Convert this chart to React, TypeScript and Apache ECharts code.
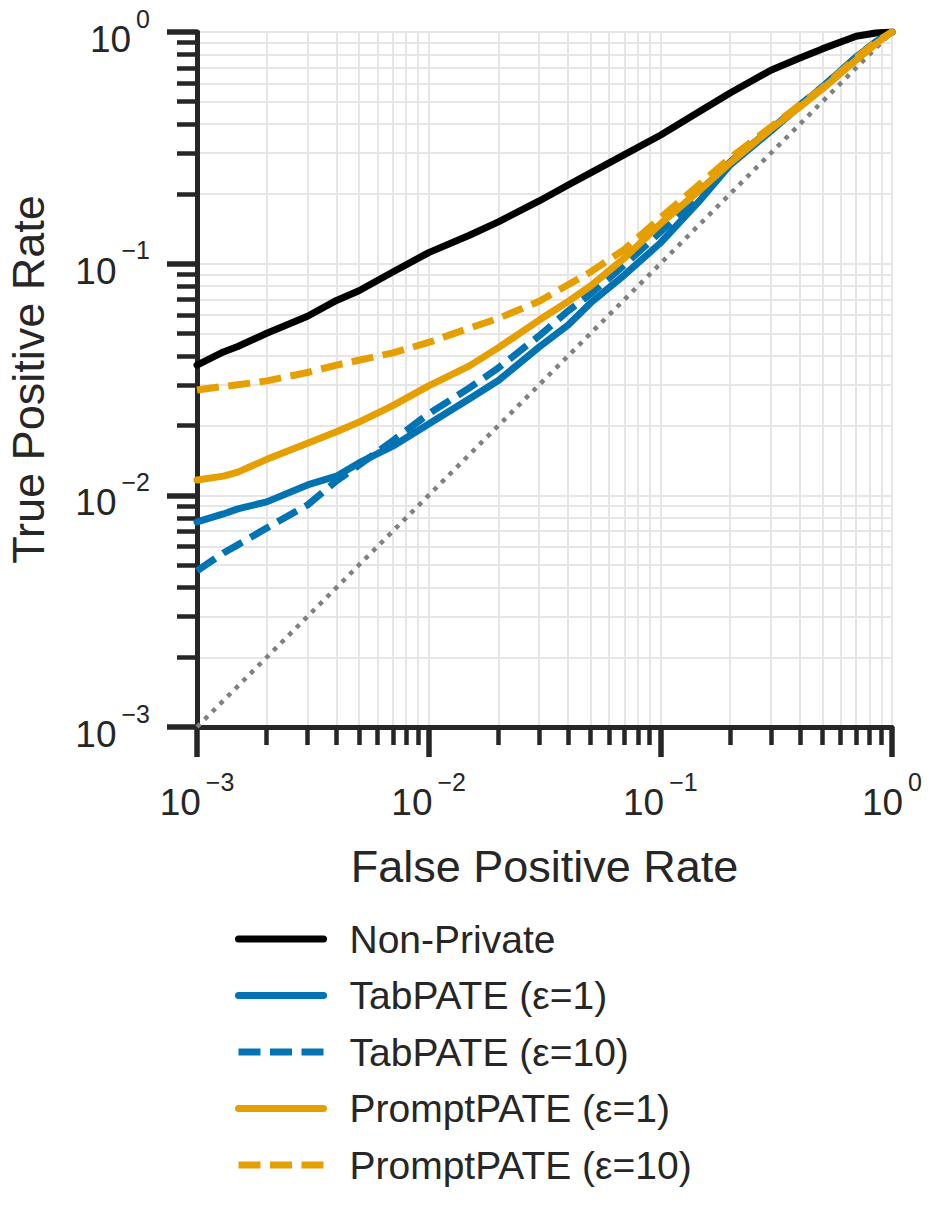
import React, { useEffect, useRef } from "react";
import * as echarts from "echarts";

// ---- data ----
const FPR = [0.001, 0.0013, 0.0015, 0.002, 0.003, 0.004, 0.005, 0.007, 0.01, 0.015, 0.02, 0.03, 0.04, 0.05, 0.07, 0.1, 0.15, 0.2, 0.3, 0.4, 0.5, 0.7, 0.85, 1.0];
const NON_PRIVATE = [0.0365, 0.0416, 0.0439, 0.0501, 0.0593, 0.0694, 0.0764, 0.0921, 0.1116, 0.1327, 0.1516, 0.1865, 0.2186, 0.2464, 0.2954, 0.3585, 0.4584, 0.5453, 0.6841, 0.7723, 0.8455, 0.958, 0.99, 1.0];
const TABPATE_E1 = [0.00768, 0.00831, 0.00874, 0.00937, 0.01109, 0.0121, 0.0138, 0.0163, 0.0203, 0.0261, 0.0313, 0.0437, 0.0544, 0.0677, 0.0894, 0.1228, 0.19, 0.2667, 0.3738, 0.4793, 0.5789, 0.78, 0.9054, 1.0];
const TABPATE_E10 = [0.00472, 0.00564, 0.00611, 0.00723, 0.00909, 0.01154, 0.0135, 0.0172, 0.0225, 0.0291, 0.0355, 0.0488, 0.0625, 0.074, 0.0987, 0.137, 0.2, 0.2747, 0.3814, 0.4841, 0.5789, 0.78, 0.9054, 1.0];
const PROMPTPATE_E1 = [0.01165, 0.0121, 0.0126, 0.0143, 0.0168, 0.0188, 0.0207, 0.0244, 0.0297, 0.0362, 0.0434, 0.0571, 0.0687, 0.0801, 0.1058, 0.1484, 0.2101, 0.272, 0.3814, 0.4746, 0.5675, 0.757, 0.8877, 1.0];
const PROMPTPATE_E10 = [0.0285, 0.0295, 0.03, 0.0312, 0.0339, 0.0365, 0.0383, 0.0412, 0.0457, 0.0527, 0.0581, 0.0688, 0.0811, 0.0921, 0.1152, 0.1575, 0.223, 0.2859, 0.389, 0.4841, 0.5732, 0.7723, 0.9054, 1.0];
const CHANCE = [0.001, 1.0];

const SERIES_NAMES = ["Non-Private", "TabPATE (ε=1)", "TabPATE (ε=10)", "PromptPATE (ε=1)", "PromptPATE (ε=10)"];
const X_TITLE = "False Positive Rate";
const Y_TITLE = "True Positive Rate";
const AXIS_MIN = 0.001;
const AXIS_MAX = 1;

// ---- styles ----
const FONT = "'Liberation Sans', Arial, sans-serif";
const TEXT = "#262626";
const AX = "#262626";
const GRID = "#e6e6e6";
const BLACK = "#000000";
const BLUE = "#0173b2";
const ORANGE = "#e69f00";
const LW = 7;
const DASH = [22, 9.5];

const expLabel = (v: number) => {
  const e = Math.round(Math.log10(v));
  const s = e < 0 ? "\u2212" + -e : String(e);
  return `{b|10}{s|${s}}`;
};

const rich = {
  b: { fontSize: 37, lineHeight: 52, verticalAlign: "bottom", color: TEXT, fontFamily: FONT },
  s: { fontSize: 25, lineHeight: 25, padding: [0, 0, 0, 5], verticalAlign: "top", color: TEXT, fontFamily: FONT },
};

function axisCommon(isX: boolean) {
  return {
    type: "log",
    logBase: 10,
    min: AXIS_MIN,
    max: AXIS_MAX,
    nameLocation: "middle",
    nameTextStyle: { fontSize: 45, lineHeight: 50, color: TEXT, fontFamily: FONT },
    axisLine: { show: true, onZero: false, lineStyle: { color: AX, width: 5 } },
    axisTick: { show: true, inside: false, length: 30, lineStyle: { color: AX, width: 5.5 } },
    minorTick: { show: true, splitNumber: 9, length: isX ? 18 : 20, lineStyle: { color: AX, width: 4.5 } },
    splitLine: { show: true, lineStyle: { color: GRID, width: 2 } },
    minorSplitLine: { show: true, lineStyle: { color: GRID, width: 2 } },
    axisLabel: { formatter: expLabel, rich, margin: isX ? 42 : 47, showMinLabel: true, showMaxLabel: true },
  };
}

function lineSeries(name: string, ys: number[], color: string, dashed: boolean) {
  return {
    type: "line",
    name,
    data: FPR.map((x, i) => [x, ys[i]]),
    symbol: "none",
    showSymbol: false,
    smooth: false,
    lineStyle: { color, width: LW, type: dashed ? DASH : "solid", cap: dashed ? "butt" : "round", join: "round" },
    itemStyle: { color },
    emphasis: { disabled: true },
  };
}

export default function App() {
  const ref = useRef<HTMLDivElement>(null);
  useEffect(() => {
    if (!ref.current) return;
    const chart = echarts.init(ref.current, undefined, { renderer: "svg" });
    chart.setOption({
      animation: false,
      backgroundColor: "#ffffff",
      textStyle: { fontFamily: FONT },
      grid: { left: 197, top: 32, width: 695, height: 695, containLabel: false, outerBoundsMode: "none" },
      xAxis: { ...axisCommon(true), name: X_TITLE, nameGap: 114 },
      yAxis: { ...axisCommon(false), name: Y_TITLE, nameGap: 144 },
      legend: {
        data: SERIES_NAMES,
        orient: "vertical",
        left: 230,
        top: 912,
        itemWidth: 85,
        itemHeight: 14,
        itemGap: 12.5,
        selectedMode: false,
        itemStyle: { opacity: 0 },
        lineStyle: { width: "inherit" },
        textStyle: { fontSize: 39, lineHeight: 44, color: TEXT, fontFamily: FONT, padding: [0, 0, 0, 21] },
      },
      series: [
        {
          type: "line",
          name: "chance",
          data: [[CHANCE[0], CHANCE[0]], [CHANCE[1], CHANCE[1]]],
          symbol: "none",
          showSymbol: false,
          lineStyle: { color: "#808080", width: 4.5, type: [4.5, 6.3] },
          emphasis: { disabled: true },
        },
        lineSeries(SERIES_NAMES[0], NON_PRIVATE, BLACK, false),
        lineSeries(SERIES_NAMES[1], TABPATE_E1, BLUE, false),
        lineSeries(SERIES_NAMES[2], TABPATE_E10, BLUE, true),
        lineSeries(SERIES_NAMES[3], PROMPTPATE_E1, ORANGE, false),
        lineSeries(SERIES_NAMES[4], PROMPTPATE_E10, ORANGE, true),
      ],
    });
    return () => chart.dispose();
  }, []);
  return <div ref={ref} style={{ position: "absolute", left: 0, top: 0, width: 932, height: 1211 }} />;
}
